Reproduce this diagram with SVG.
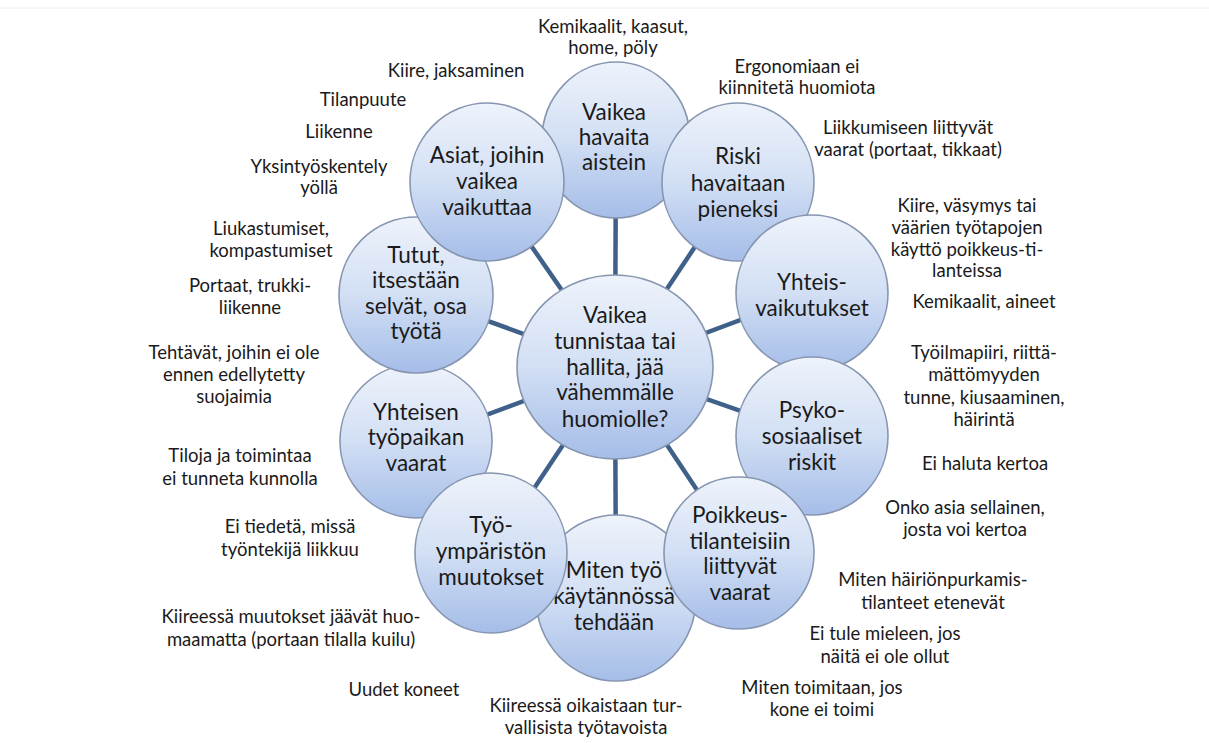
<svg xmlns="http://www.w3.org/2000/svg" width="1209" height="743" viewBox="0 0 1209 743">
<defs>
<linearGradient id="g" x1="0" y1="0" x2="0" y2="1">
<stop offset="0" stop-color="#eef3fb"/>
<stop offset="0.5" stop-color="#d2dff4"/>
<stop offset="1" stop-color="#a5bde8"/>
</linearGradient>
<style>
.n{fill:url(#g);stroke:#8796b0;stroke-width:1.6}
.c line{stroke:#3f6189;stroke-width:4.5}
.t{font-family:"Lato","Liberation Sans",sans-serif;font-size:22.5px;fill:#1a1a1a;text-anchor:middle}
.a{font-family:"Lato","Liberation Sans",sans-serif;font-size:18.5px;fill:#1a1a1a;text-anchor:middle}
</style>
</defs>
<rect width="1209" height="743" fill="#ffffff"/>
<line x1="0" y1="8" x2="1209" y2="8" stroke="#ececec" stroke-width="1"/>
<g id="connectors" class="c">
<line x1="615" y1="367" x2="616" y2="140"/>
<line x1="615" y1="367" x2="738" y2="182"/>
<line x1="615" y1="367" x2="812" y2="293"/>
<line x1="615" y1="367" x2="812" y2="436"/>
<line x1="615" y1="367" x2="739" y2="553"/>
<line x1="615" y1="367" x2="616" y2="598"/>
<line x1="615" y1="367" x2="491" y2="553"/>
<line x1="615" y1="367" x2="416" y2="441"/>
<line x1="615" y1="367" x2="416" y2="295"/>
<line x1="615" y1="367" x2="487" y2="182"/>
</g>
<g id="n-top"><ellipse class="n" cx="616" cy="140" rx="74" ry="78"/>
<text class="t"><tspan x="614" y="120">Vaikea</tspan><tspan x="614" y="145">havaita</tspan><tspan x="614" y="170">aistein</tspan></text></g>
<g id="n-miten"><ellipse class="n" cx="616" cy="598" rx="80" ry="83"/>
<text class="t"><tspan x="614" y="578">Miten työ</tspan><tspan x="614" y="604">käytännössä</tspan><tspan x="614" y="630">tehdään</tspan></text></g>
<g id="n-riski"><ellipse class="n" cx="738" cy="182" rx="76" ry="79"/>
<text class="t"><tspan x="738" y="164">Riski</tspan><tspan x="738" y="191">havaitaan</tspan><tspan x="738" y="217">pieneksi</tspan></text></g>
<g id="n-yhteisvaik"><ellipse class="n" cx="812" cy="293" rx="76" ry="78"/>
<text class="t"><tspan x="812" y="290">Yhteis-</tspan><tspan x="812" y="316">vaikutukset</tspan></text></g>
<g id="n-yhteisen"><ellipse class="n" cx="416" cy="441" rx="76" ry="77"/>
<text class="t"><tspan x="416" y="420">Yhteisen</tspan><tspan x="416" y="445">työpaikan</tspan><tspan x="416" y="471">vaarat</tspan></text></g>
<g id="n-psyko"><ellipse class="n" cx="812" cy="436" rx="76" ry="79"/>
<text class="t"><tspan x="812" y="418">Psyko-</tspan><tspan x="812" y="444">sosiaaliset</tspan><tspan x="812" y="470">riskit</tspan></text></g>
<g id="n-tutut"><ellipse class="n" cx="416" cy="295" rx="77" ry="78"/>
<text class="t"><tspan x="416" y="263">Tutut,</tspan><tspan x="416" y="288">itsestään</tspan><tspan x="416" y="314">selvät, osa</tspan><tspan x="416" y="339">työtä</tspan></text></g>
<g id="n-poikkeus"><ellipse class="n" cx="739" cy="553" rx="75" ry="76"/>
<text class="t"><tspan x="740" y="523">Poikkeus-</tspan><tspan x="740" y="549">tilanteisiin</tspan><tspan x="740" y="574">liittyvät</tspan><tspan x="740" y="600">vaarat</tspan></text></g>
<g id="n-tyoymp"><ellipse class="n" cx="491" cy="553" rx="76" ry="80"/>
<text class="t"><tspan x="491" y="533">Työ-</tspan><tspan x="491" y="559">ympäristön</tspan><tspan x="491" y="585">muutokset</tspan></text></g>
<g id="n-asiat"><ellipse class="n" cx="487" cy="182" rx="77" ry="79"/>
<text class="t"><tspan x="487" y="163">Asiat, joihin</tspan><tspan x="487" y="189">vaikea</tspan><tspan x="487" y="215">vaikuttaa</tspan></text></g>
<g id="n-center"><ellipse class="n" cx="615" cy="367" rx="98" ry="92"/>
<text class="t"><tspan x="615" y="323">Vaikea</tspan><tspan x="615" y="349">tunnistaa tai</tspan><tspan x="615" y="375">hallita, jää</tspan><tspan x="615" y="400">vähemmälle</tspan><tspan x="615" y="427">huomiolle?</tspan></text></g>
<g id="labels" class="a">
<text><tspan x="613" y="33">Kemikaalit, kaasut,</tspan><tspan x="613" y="54">home, pöly</tspan></text>
<text><tspan x="797" y="73">Ergonomiaan ei</tspan><tspan x="797" y="94">kiinnitetä huomiota</tspan></text>
<text><tspan x="908" y="134">Liikkumiseen liittyvät</tspan><tspan x="908" y="156">vaarat (portaat, tikkaat)</tspan></text>
<text><tspan x="967" y="212">Kiire, väsymys tai</tspan><tspan x="967" y="234">väärien työtapojen</tspan><tspan x="967" y="256">käyttö poikkeus-ti-</tspan><tspan x="967" y="277">lanteissa</tspan></text>
<text><tspan x="984" y="308">Kemikaalit, aineet</tspan></text>
<text><tspan x="984" y="359">Työilmapiiri, riittä-</tspan><tspan x="984" y="381">mättömyyden</tspan><tspan x="984" y="404">tunne, kiusaaminen,</tspan><tspan x="984" y="426">häirintä</tspan></text>
<text><tspan x="985" y="470">Ei haluta kertoa</tspan></text>
<text><tspan x="965" y="514">Onko asia sellainen,</tspan><tspan x="965" y="536">josta voi kertoa</tspan></text>
<text><tspan x="933" y="586">Miten häiriönpurkamis-</tspan><tspan x="933" y="609">tilanteet etenevät</tspan></text>
<text><tspan x="885" y="640">Ei tule mieleen, jos</tspan><tspan x="885" y="663">näitä ei ole ollut</tspan></text>
<text><tspan x="822" y="694">Miten toimitaan, jos</tspan><tspan x="822" y="716">kone ei toimi</tspan></text>
<text><tspan x="586" y="712">Kiireessä oikaistaan tur-</tspan><tspan x="586" y="734">vallisista työtavoista</tspan></text>
<text><tspan x="404" y="696">Uudet koneet</tspan></text>
<text><tspan x="291" y="623">Kiireessä muutokset jäävät huo-</tspan><tspan x="291" y="646">maamatta (portaan tilalla kuilu)</tspan></text>
<text><tspan x="290" y="533">Ei tiedetä, missä</tspan><tspan x="290" y="556">työntekijä liikkuu</tspan></text>
<text><tspan x="240" y="462">Tiloja ja toimintaa</tspan><tspan x="240" y="485">ei tunneta kunnolla</tspan></text>
<text><tspan x="234" y="359">Tehtävät, joihin ei ole</tspan><tspan x="234" y="381">ennen edellytetty</tspan><tspan x="234" y="403">suojaimia</tspan></text>
<text><tspan x="250" y="292">Portaat, trukki-</tspan><tspan x="250" y="314">liikenne</tspan></text>
<text><tspan x="271" y="235">Liukastumiset,</tspan><tspan x="271" y="257">kompastumiset</tspan></text>
<text><tspan x="319" y="173">Yksintyöskentely</tspan><tspan x="319" y="194">yöllä</tspan></text>
<text><tspan x="339" y="138">Liikenne</tspan></text>
<text><tspan x="363" y="106">Tilanpuute</tspan></text>
<text><tspan x="456" y="77">Kiire, jaksaminen</tspan></text>
</g>
</svg>
